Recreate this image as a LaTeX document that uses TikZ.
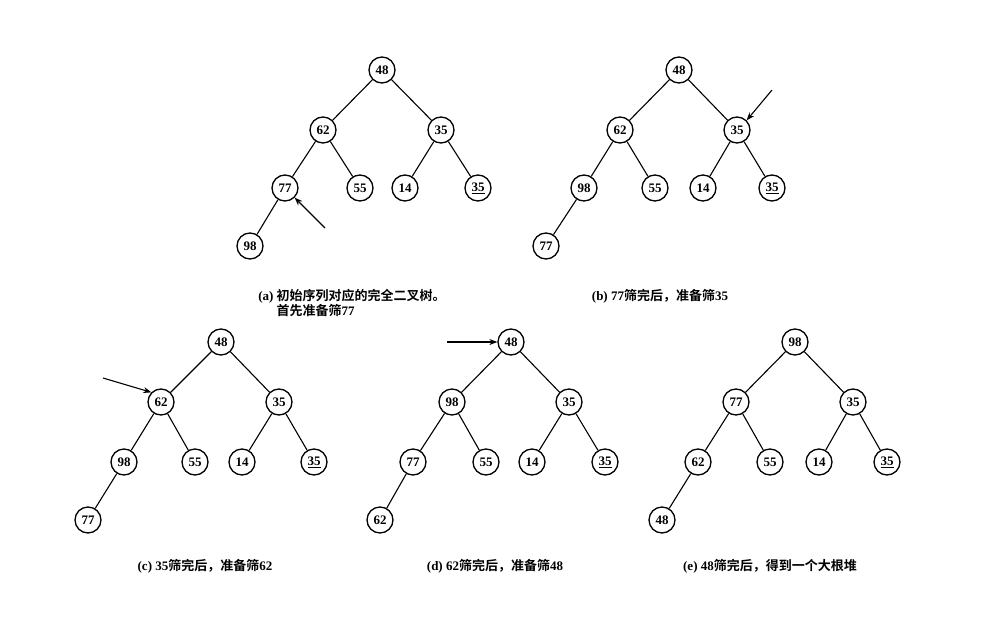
\documentclass[tikz,border=0pt]{standalone}
\usepackage{fontspec}
\setmainfont{Liberation Serif}
\newfontfamily\cjk{Noto Sans CJK SC}[BoldFont={Noto Sans CJK SC Bold}]
\usetikzlibrary{arrows.meta}
\begin{document}
\begin{tikzpicture}[x=1pt,y=-1pt,
	key/.style={circle, draw, line width=1.3pt, minimum size=26pt, inner sep=0pt, font=\bfseries\fontsize{13}{13}\selectfont},
	edge/.style={line width=1.1pt},
	pointer/.style={-{Stealth[length=8pt,width=6pt]}, line width=1.1pt},
	caption/.style={font=\bfseries\fontsize{13}{15}\selectfont, align=left}]
	\useasboundingbox (0,0) rectangle (983,621);
	
	%Tree (a)
	\node[key] (A48) at (382,70) {48};
	\node[key] (A62) at (323,130) {62};
	\node[key] (A35) at (441,130) {35};
	\node[key] (A77) at (285,188) {77};
	\node[key] (A55) at (360,188) {55};
	\node[key] (A14) at (405,188) {14};
	\node[key] (A35u) at (478,188) {\underline{35}};
	\node[key] (A98) at (250,246) {98};
	\draw[edge] (A48)--(A62) (A48)--(A35) (A62)--(A77) (A62)--(A55) (A35)--(A14) (A35)--(A35u) (A77)--(A98);
	\coordinate (ApA) at (325,228);
	\draw[pointer] (ApA) -- (A77.south east);
	\node[caption] (capA) at (352,304) {(a) {\cjk 初始序列对应的完全二叉树。}\\\phantom{(a) }{\cjk 首先准备筛}77};
	
	%Tree (b)
	\node[key] (B48) at (679,70) {48};
	\node[key] (B62) at (620,130) {62};
	\node[key] (B35) at (737,130) {35};
	\node[key] (B98) at (584,188) {98};
	\node[key] (B55) at (655,188) {55};
	\node[key] (B14) at (703,188) {14};
	\node[key] (B35u) at (772,188) {\underline{35}};
	\node[key] (B77) at (546,246) {77};
	\draw[edge] (B48)--(B62) (B48)--(B35) (B62)--(B98) (B62)--(B55) (B35)--(B14) (B35)--(B35u) (B98)--(B77);
	\coordinate (BpA) at (772,90);
	\draw[pointer] (BpA) -- (B35.north east);
	\node[caption] (capB) at (660,296) {(b) 77{\cjk 筛完后，准备筛}35};
	
	%Tree (c)
	\node[key] (C48) at (221,342) {48};
	\node[key] (C62) at (161,402) {62};
	\node[key] (C35) at (279,402) {35};
	\node[key] (C98) at (124,462) {98};
	\node[key] (C55) at (195,462) {55};
	\node[key] (C14) at (242,462) {14};
	\node[key] (C35u) at (314,462) {\underline{35}};
	\node[key] (C77) at (88,520) {77};
	\draw[edge] (C48)--(C62) (C48)--(C35) (C62)--(C98) (C62)--(C55) (C35)--(C14) (C35)--(C35u) (C98)--(C77);
	\coordinate (CpA) at (103,378);
	\draw[pointer] (CpA) -- (C62.north west);
	\node[caption] (capC) at (205,566) {(c) 35{\cjk 筛完后，准备筛}62};
	
	%Tree (d)
	\node[key] (D48) at (511,342) {48};
	\node[key] (D98) at (452,402) {98};
	\node[key] (D35) at (569,402) {35};
	\node[key] (D77) at (413,462) {77};
	\node[key] (D55) at (486,462) {55};
	\node[key] (D14) at (532,462) {14};
	\node[key] (D35u) at (605,462) {\underline{35}};
	\node[key] (D62) at (380,520) {62};
	\draw[edge] (D48)--(D98) (D48)--(D35) (D98)--(D77) (D98)--(D55) (D35)--(D14) (D35)--(D35u) (D77)--(D62);
	\coordinate (DpA) at (447,342);
	\draw[pointer] (DpA) -- (D48.west);
	\node[caption] (capD) at (495,566) {(d) 62{\cjk 筛完后，准备筛}48};
	
	%Tree (e)
	\node[key] (E98) at (795,342) {98};
	\node[key] (E77) at (736,402) {77};
	\node[key] (E35) at (853,402) {35};
	\node[key] (E62) at (698,462) {62};
	\node[key] (E55) at (770,462) {55};
	\node[key] (E14) at (819,462) {14};
	\node[key] (E35u) at (887,462) {\underline{35}};
	\node[key] (E48) at (662,520) {48};
	\draw[edge] (E98)--(E77) (E98)--(E35) (E77)--(E62) (E77)--(E55) (E35)--(E14) (E35)--(E35u) (E62)--(E48);
	\node[caption] (capE) at (770,566) {(e) 48{\cjk 筛完后，得到一个大根堆}};
	
\end{tikzpicture}
\end{document}
